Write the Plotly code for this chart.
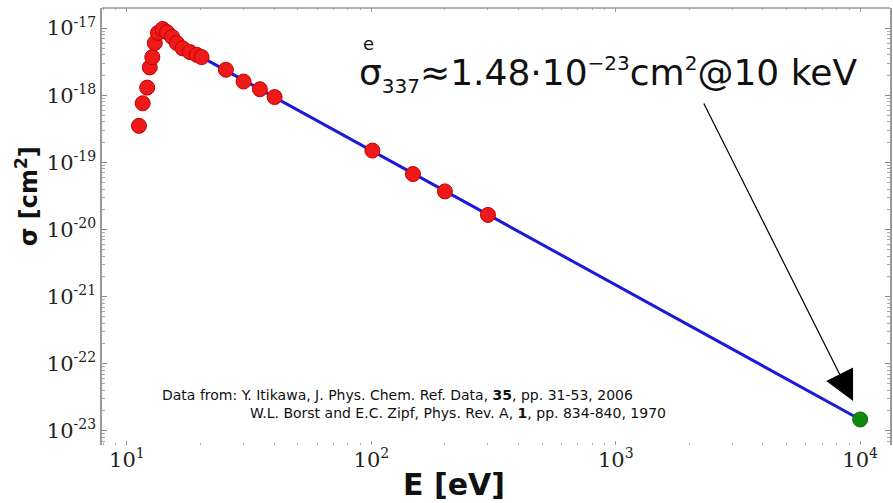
import plotly.graph_objects as go

# ---- data ----
E_data = [11.2, 11.6, 12.1, 12.4, 12.7, 13.0, 13.4, 14.0, 14.6, 15.3, 16.0, 16.9,
          18.1, 19.3, 20.2, 25.4, 30.0, 35.0, 40.2, 101, 148, 200, 300]
sigma_data = [3.5e-19, 7.6e-19, 1.3e-18, 2.6e-18, 3.7e-18, 6.0e-18, 8.5e-18, 9.7e-18,
              8.7e-18, 7.4e-18, 6.0e-18, 5.0e-18, 4.4e-18, 4.0e-18, 3.7e-18, 2.4e-18,
              1.6e-18, 1.23e-18, 9.4e-19, 1.5e-19, 6.7e-20, 3.7e-20, 1.65e-20]
fit_E = [20.2, 1.0e4]
fit_sigma = [3.7e-18, 1.48e-23]
point_E = [1.0e4]
point_sigma = [1.48e-23]

x_exps = [1, 2, 3, 4]
x_tickvals = [10.0 ** e for e in x_exps]
y_exps = [-17, -18, -19, -20, -21, -22, -23]
y_tickvals = [10.0 ** e for e in y_exps]


def pow_label(e):
    return "10<sup><span style='font-size:14px'>%d</span></sup>" % e


x_ticktext = [pow_label(e) for e in x_exps]
y_ticktext = [pow_label(e) for e in y_exps]

x_minor = [m * 10.0 ** d for d in range(0, 4) for m in range(2, 10)]
y_minor = [m * 10.0 ** d for d in range(-24, -16) for m in range(2, 10)]

# ---- layout geometry (pixels) ----
W, H = 893, 503
L, R, T, B = 102, 1, 8, 58
PW, PH = W - L - R, H - T - B


def px(x):
    return (x - L) / PW


def py(y):
    return (H - B - y) / PH


fig = go.Figure()
fig.add_trace(go.Scatter(x=fit_E, y=fit_sigma, mode="lines",
                         line=dict(color="#1a1ad8", width=3), hoverinfo="skip"))
fig.add_trace(go.Scatter(x=E_data, y=sigma_data, mode="markers",
                         marker=dict(color="#ee1a1a", size=15,
                                     line=dict(color="#c00000", width=1))))
fig.add_trace(go.Scatter(x=point_E, y=point_sigma, mode="markers",
                         marker=dict(color="#108a10", size=15,
                                     line=dict(color="#0a6a0a", width=1))))

tickfont = dict(family="DejaVu Serif", size=21, color="#222")
fig.update_xaxes(type="log", range=[0.898, 4.122],
                 tickvals=x_tickvals, ticktext=x_ticktext, tickfont=tickfont,
                 ticks="inside", ticklen=4, tickcolor="#999", mirror="ticks",
                 showline=False, showgrid=False, zeroline=False,
                 minor=dict(tickvals=x_minor, ticks="inside", ticklen=2, tickcolor="#aaa"))
fig.update_yaxes(type="log", range=[-23.21, -16.70],
                 tickvals=y_tickvals, ticktext=y_ticktext, tickfont=tickfont,
                 ticks="inside", ticklen=5, tickcolor="#888", mirror="ticks",
                 showline=True, linecolor="#999", linewidth=1.5,
                 showgrid=False, zeroline=False,
                 minor=dict(tickvals=y_minor, ticks="inside", ticklen=3, tickcolor="#aaa"))

annos = [
    dict(text="σ<sub><span style='font-size:20px'>337</span></sub>≈1.48·10"
              "<sup><span style='font-size:20px'>−23</span></sup>cm"
              "<sup><span style='font-size:20px'>2</span></sup>@10 keV",
         x=px(358), y=py(75), xanchor="left", yanchor="middle",
         font=dict(family="DejaVu Sans", size=36, color="#111")),
    dict(text="e", x=px(369), y=py(44), xanchor="center", yanchor="middle",
         font=dict(family="DejaVu Sans", size=18, color="#111")),
    dict(text="Data from: Y. Itikawa, J. Phys. Chem. Ref. Data, <b>35</b>, pp. 31-53, 2006",
         x=px(160), y=py(395), xanchor="left", yanchor="middle",
         font=dict(family="DejaVu Sans", size=14, color="#111")),
    dict(text="W.L. Borst and E.C. Zipf, Phys. Rev. A, <b>1</b>, pp. 834-840, 1970",
         x=px(248), y=py(413), xanchor="left", yanchor="middle",
         font=dict(family="DejaVu Sans", size=14, color="#111")),
    dict(text="<b>E [eV]</b>", x=px(455), y=py(485), xanchor="center", yanchor="middle",
         font=dict(family="DejaVu Sans", size=30, color="#111")),
    dict(text="<b>σ [cm<sup>2</sup>]</b>", x=px(27), y=py(196), xanchor="center",
         yanchor="middle", textangle=-90,
         font=dict(family="DejaVu Sans", size=24, color="#111")),
    dict(text="", x=px(855), y=py(401), showarrow=True, ax=-150, ay=-299,
         arrowhead=2, arrowsize=5, arrowwidth=1.2, arrowcolor="#000"),
]
for a in annos:
    a.setdefault("showarrow", False)
    a["xref"] = "paper"
    a["yref"] = "paper"
    fig.add_annotation(**a)

fig.add_shape(type="line", xref="paper", yref="paper", x0=0, x1=1, y0=1, y1=1,
              line=dict(color="#999", width=1.5))

fig.update_layout(width=W, height=H, margin=dict(l=L, r=R, t=T, b=B),
                  plot_bgcolor="white", paper_bgcolor="white", showlegend=False)

fig.write_html("out.html")
